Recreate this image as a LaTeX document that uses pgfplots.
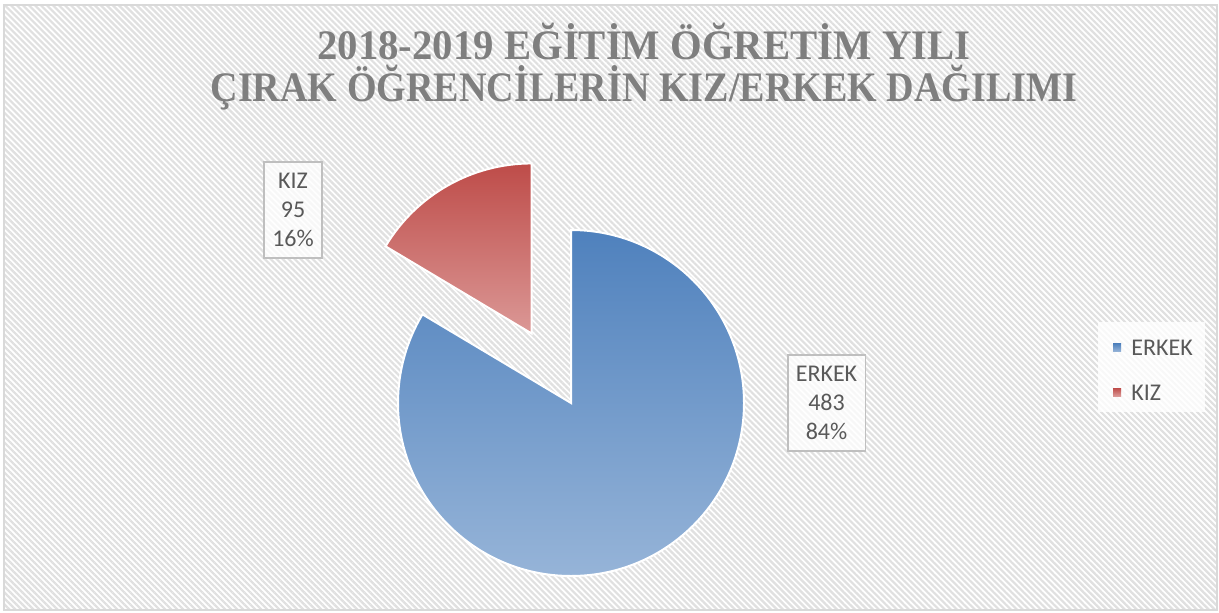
\documentclass[border=0pt]{standalone}
\usepackage{pgfplots}
\pgfplotsset{compat=1.18}
\usepackage{pgfplotstable}
\usepackage{fontspec}
\setmainfont{Carlito}
\newfontfamily\titlefont{Liberation Serif}
\usetikzlibrary{patterns.meta}

\definecolor{titlegray}{RGB}{127,127,127}
\definecolor{labelgray}{RGB}{89,89,89}
\definecolor{framegray}{RGB}{217,217,217}
\definecolor{boxgray}{RGB}{191,191,191}
\definecolor{hatch}{RGB}{224,224,224}
\definecolor{blueTop}{RGB}{79,129,189}
\definecolor{blueBot}{RGB}{150,180,216}
\definecolor{redTop}{RGB}{190,76,73}
\definecolor{redBot}{RGB}{219,152,150}

% slice values
\pgfplotstableread{
name  value
ERKEK 483
KIZ   95
}\piedata

\begin{document}
\begin{tikzpicture}
\pgfplotstablegetelem{0}{value}\of\piedata \let\vE\pgfplotsretval
\pgfplotstablegetelem{1}{value}\of\piedata \let\vK\pgfplotsretval
\pgfmathsetmacro\total{\vE+\vK}
\pgfmathsetmacro\fracE{\vE/\total}
\pgfmathsetmacro\splitA{90-360*\fracE}
\pgfmathsetmacro\splitB{360+\splitA}
\pgfmathsetmacro\midK{(90+\splitB)/2}
\pgfmathsetmacro\redX{571+80*cos(\midK)}
\pgfmathsetmacro\redY{209+80*sin(\midK)}
\pgfmathtruncatemacro\pE{round(100*\fracE)}
\pgfmathtruncatemacro\pK{100-\pE}
\begin{axis}[
  x=0.5pt, y=0.5pt, scale only axis,
  xmin=0, xmax=1219, ymin=0, ymax=612,
  hide axis, clip=false,
]
\coordinate (BL) at (axis cs:0,0);
\coordinate (TR) at (axis cs:1219,612);
% chart area
\fill[white] (axis cs:0,0) rectangle (axis cs:1219,612);
\fill[pattern={Lines[angle=-45,distance=2.12pt,line width=1.1pt]}, pattern color=hatch]
  (axis cs:4,2) rectangle (axis cs:1217,607);
\draw[framegray, line width=1pt] (axis cs:4,2) rectangle (axis cs:1217,607);

% title
\node[anchor=base, text=titlegray, inner sep=0pt, font=\titlefont\bfseries\fontsize{21}{25}\selectfont]
  at (axis cs:644,552.7) {\scalebox{0.97}[1]{2018-2019 EĞİTİM ÖĞRETİM YILI}};
\node[anchor=base, text=titlegray, inner sep=0pt, font=\titlefont\bfseries\fontsize{21}{25}\selectfont]
  at (axis cs:644,510.3) {\scalebox{0.907}[1]{ÇIRAK ÖĞRENCİLERİN KIZ/ERKEK DAĞILIMI}};

% slices
\shade[top color=blueTop, bottom color=blueBot, draw=white, line width=1pt]
  (axis cs:571,209) -- ++(90:86.5pt) arc[start angle=90, end angle=\splitA, radius=86.5pt] -- cycle;
\shade[top color=redTop, bottom color=redBot, draw=white, line width=1pt]
  (axis cs:\redX,\redY) -- ++(90:85pt) arc[start angle=90, end angle=\splitB, radius=85pt] -- cycle;

% data labels
\node[draw=boxgray, line width=0.8pt, fill=white, fill opacity=0.75, text opacity=1,
  text=labelgray, align=center, inner sep=0pt, minimum width=29pt, minimum height=48pt,
  font=\fontsize{12}{14.5}\selectfont]
  at (axis cs:293,402.3) {KIZ\\\vK\\\pK\%};
\node[draw=boxgray, line width=0.8pt, fill=white, fill opacity=0.75, text opacity=1,
  text=labelgray, align=center, inner sep=0pt, minimum width=38.8pt, minimum height=48pt,
  font=\fontsize{12}{14.5}\selectfont]
  at (axis cs:826.5,209.2) {ERKEK\\\vE\\\pE\%};

% legend
\fill[white, opacity=0.8] (axis cs:1098,200) rectangle (axis cs:1205,290);
\shade[top color=blueTop, bottom color=blueBot] (axis cs:1113,260.5) rectangle (axis cs:1121,268.5);
\shade[top color=redTop, bottom color=redBot] (axis cs:1113,216) rectangle (axis cs:1121,224);
\node[anchor=base west, text=labelgray, inner sep=0pt, font=\fontsize{12}{14}\selectfont]
  at (axis cs:1131,257) {ERKEK};
\node[anchor=base west, text=labelgray, inner sep=0pt, font=\fontsize{12}{14}\selectfont]
  at (axis cs:1131,212) {KIZ};
\end{axis}
\pgfresetboundingbox
\path[use as bounding box] (BL) rectangle (TR);
\end{tikzpicture}
\end{document}
